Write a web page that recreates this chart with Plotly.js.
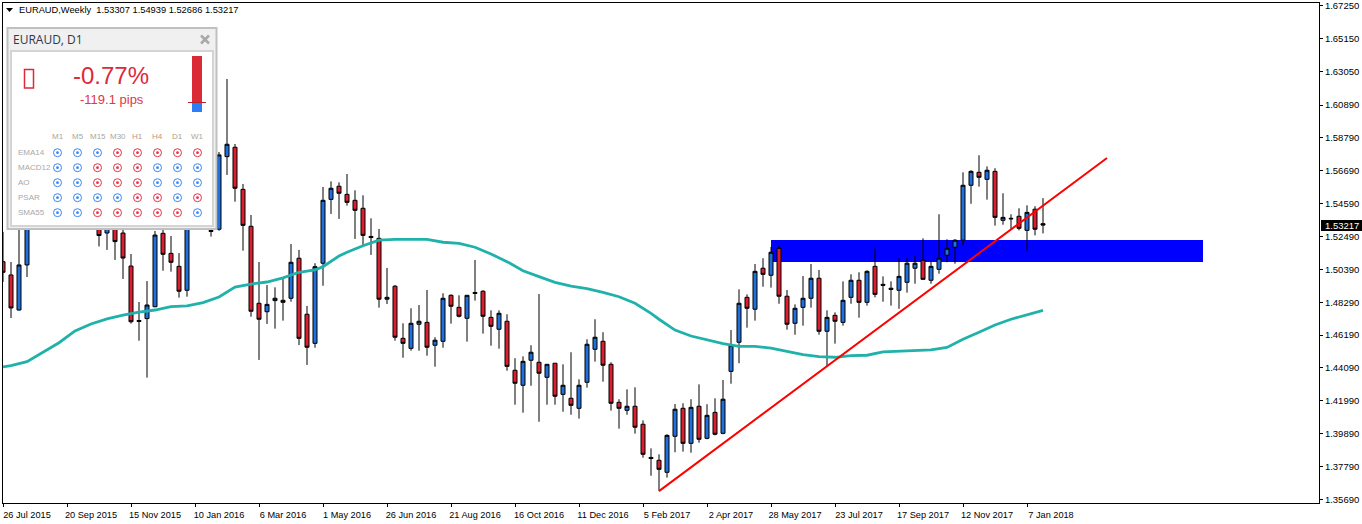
<!DOCTYPE html>
<html><head><meta charset="utf-8">
<script src="https://cdn.plot.ly/plotly-3.0.1.min.js"></script>
<style>html,body{margin:0;padding:0;background:#fff}#c{width:1362px;height:524px}</style>
</head><body><div id="c"></div>
<script>
// Weekly candles, week 0 = 26 Jul 2015. Candles 4-11 and 24-25 sit behind the panel in the picture.
const startDate = '2015-07-26';
const opens = [1.5088,1.5003,1.4779,1.5067,1.5450,1.5341,1.5546,1.5661,1.5482,1.5386,1.5514,1.5405,1.5386,1.5271,1.5367,1.5271,1.5060,1.4712,1.4724,1.4800,1.5269,1.5141,1.5058,1.4905,1.5386,1.5597,1.5287,1.5295,1.5759,1.5819,1.5550,1.5314,1.4822,1.4768,1.4839,1.4841,1.4854,1.5110,1.4752,1.4566,1.5078,1.5486,1.5570,1.5518,1.5480,1.5429,1.5249,1.5237,1.4848,1.4931,1.4598,1.4534,1.4688,1.4700,1.4554,1.4579,1.4873,1.4796,1.4726,1.4891,1.4899,1.4732,1.4656,1.4707,1.4394,1.4298,1.4458,1.4445,1.4349,1.4439,1.4240,1.4215,1.4151,1.4317,1.4528,1.4579,1.4432,1.4189,1.4138,1.4164,1.4049,1.3837,1.3819,1.3742,1.3972,1.4151,1.3927,1.4164,1.3959,1.4125,1.3991,1.4387,1.4573,1.4860,1.4784,1.5046,1.5001,1.5173,1.4867,1.4694,1.4796,1.4854,1.4982,1.4643,1.4745,1.4700,1.4860,1.4969,1.4828,1.5058,1.4943,1.4918,1.4905,1.4956,1.5046,1.5097,1.4969,1.5039,1.5129,1.5180,1.5225,1.5576,1.5659,1.5614,1.5665,1.5352,1.5365,1.5378,1.5288,1.5423,1.53307];
const highs = [1.5278,1.5086,1.5482,1.5514,1.5514,1.5610,1.5738,1.5706,1.5546,1.5559,1.5578,1.5533,1.5450,1.5418,1.5450,1.5297,1.5137,1.4830,1.4964,1.5284,1.5297,1.5252,1.5143,1.5450,1.5674,1.5661,1.5329,1.5789,1.6255,1.5840,1.5584,1.5386,1.5086,1.4939,1.4924,1.4977,1.5201,1.5163,1.4805,1.5078,1.5565,1.5601,1.5595,1.5648,1.5544,1.5512,1.5365,1.5297,1.5048,1.4939,1.4694,1.4790,1.4811,1.4907,1.4605,1.4886,1.4879,1.4873,1.4873,1.5099,1.4905,1.4777,1.4777,1.4752,1.4471,1.4483,1.4554,1.4881,1.4432,1.4439,1.4432,1.4509,1.4336,1.4592,1.4720,1.4637,1.4445,1.4209,1.4272,1.4285,1.4074,1.3895,1.3857,1.3985,1.4178,1.4183,1.4209,1.4304,1.4177,1.4215,1.4332,1.4651,1.4911,1.4879,1.5073,1.5110,1.5182,1.5188,1.4907,1.4815,1.4996,1.5073,1.5035,1.4777,1.4764,1.4962,1.5007,1.5020,1.5033,1.5173,1.4994,1.4962,1.5110,1.5110,1.5126,1.5237,1.5088,1.5391,1.5231,1.5231,1.5659,1.5672,1.5768,1.5697,1.5685,1.5525,1.5391,1.5429,1.5448,1.5442,1.54939];
const lows = [1.4958,1.4728,1.4776,1.4990,1.5316,1.5316,1.5482,1.5418,1.5341,1.5329,1.5354,1.5329,1.5185,1.5163,1.5099,1.4977,1.4692,1.4583,1.4347,1.4797,1.5030,1.5024,1.4858,1.4864,1.5341,1.5354,1.5248,1.5286,1.5642,1.5471,1.5158,1.4736,1.4460,1.4690,1.4660,1.4711,1.4832,1.4555,1.4428,1.4538,1.4934,1.5393,1.5361,1.5446,1.5233,1.5194,1.5131,1.4794,1.4817,1.4583,1.4474,1.4519,1.4519,1.4487,1.4417,1.4538,1.4692,1.4732,1.4577,1.4839,1.4628,1.4551,1.4532,1.4391,1.4174,1.4123,1.4295,1.4065,1.4174,1.4174,1.4129,1.4110,1.4085,1.4283,1.4449,1.4321,1.4136,1.4021,1.4110,1.3989,1.3835,1.3720,1.3624,1.3708,1.3870,1.3874,1.3867,1.3931,1.3953,1.3978,1.3985,1.4308,1.4439,1.4666,1.4711,1.4928,1.4922,1.4819,1.4653,1.4621,1.4679,1.4794,1.4621,1.4421,1.4564,1.4679,1.4819,1.4730,1.4807,1.4860,1.4832,1.4807,1.4787,1.4890,1.4947,1.4975,1.4947,1.5011,1.5084,1.5075,1.5193,1.5458,1.5567,1.5484,1.5318,1.5324,1.5295,1.5288,1.5154,1.5256,1.52686];
const closes = [1.5020,1.4792,1.5067,1.5482,1.5341,1.5546,1.5674,1.5482,1.5386,1.5514,1.5418,1.5482,1.5255,1.5322,1.5216,1.5111,1.4704,1.4706,1.4811,1.5258,1.5135,1.5084,1.4899,1.5386,1.5610,1.5450,1.5281,1.5770,1.5838,1.5557,1.5320,1.4771,1.4720,1.4815,1.4854,1.4828,1.5084,1.4598,1.4541,1.5056,1.5480,1.5557,1.5525,1.5467,1.5416,1.5256,1.5242,1.4848,1.4860,1.4605,1.4566,1.4694,1.4707,1.4541,1.4586,1.4854,1.4803,1.4739,1.4873,1.4885,1.4739,1.4675,1.4758,1.4419,1.4311,1.4451,1.4509,1.4375,1.4432,1.4228,1.4298,1.4170,1.4298,1.4560,1.4605,1.4426,1.4183,1.4151,1.4164,1.4030,1.3857,1.3830,1.3761,1.3978,1.4145,1.3927,1.4157,1.3953,1.4106,1.3985,1.4209,1.4554,1.4822,1.4790,1.5026,1.5007,1.5148,1.4867,1.4688,1.4790,1.4854,1.4982,1.4643,1.4732,1.4707,1.4841,1.4969,1.4828,1.5026,1.4879,1.4937,1.4911,1.4994,1.5078,1.5078,1.4975,1.5058,1.5110,1.5173,1.5225,1.5576,1.5665,1.5627,1.5672,1.5371,1.5371,1.5362,1.5301,1.5403,1.5295,1.53217];

// Moving average: week number and price
const maWeeks = [0,1,3,5,7,9,11,13,15,17,19,21,23,25,27,29,31,33,35,37,39,40,42,43,45,47,49,51,53,55,57,59,61,63,65,67,69,71,73,75,77,79,80,81,82,84,86,88,90,92,94,96,98,100,102,104,106,108,110,112,114,116,118,120,122,124,126,128,130];
const maValues = [1.4415,1.4423,1.4449,1.4511,1.4570,1.4645,1.4690,1.4722,1.4747,1.4766,1.4779,1.4800,1.4805,1.4826,1.4862,1.4926,1.4945,1.4958,1.4984,1.5020,1.5035,1.5056,1.5124,1.5148,1.5190,1.5226,1.5231,1.5231,1.5231,1.5212,1.5205,1.5180,1.5137,1.5088,1.5030,1.4992,1.4956,1.4931,1.4915,1.4892,1.4864,1.4822,1.4790,1.4758,1.4720,1.4651,1.4613,1.4586,1.4564,1.4547,1.4547,1.4536,1.4517,1.4494,1.4481,1.4477,1.4487,1.4490,1.4511,1.4514,1.4517,1.4524,1.4540,1.4592,1.4637,1.4683,1.4720,1.4749,1.4777];

// Drawn objects
const trendDates = ['2017-02-19','2018-03-18'];
const trendPrices = [1.3622,1.5750];
const zoneDates = ['2017-05-28','2018-06-10'];
const zonePrices = [1.5086,1.5226];

// Axis labels
const xTickDates = ['2015-07-26','2015-09-20','2015-11-15','2016-01-10','2016-03-06','2016-05-01','2016-06-26','2016-08-21','2016-10-16','2016-12-11','2017-02-05','2017-04-02','2017-05-28','2017-07-23','2017-09-17','2017-11-12','2018-01-07'];
const xTickText = ['26 Jul 2015','20 Sep 2015','15 Nov 2015','10 Jan 2016','6 Mar 2016','1 May 2016','26 Jun 2016','21 Aug 2016','16 Oct 2016','11 Dec 2016','5 Feb 2017','2 Apr 2017','28 May 2017','23 Jul 2017','17 Sep 2017','12 Nov 2017','7 Jan 2018'];
const yTicks = [1.6725,1.6515,1.6305,1.6089,1.5879,1.5669,1.5459,1.5249,1.5039,1.4829,1.4619,1.4409,1.4199,1.3989,1.3779,1.3569];

// Signal panel
const tfNames = ['M1','M5','M15','M30','H1','H4','D1','W1'];
const tfColors = ['#aaa69c','#aaa69c','#aaa69c','#aaa69c','#b09a8c','#b09a8c','#b09a8c','#aaa69c'];
const rowNames = ['EMA14','MACD12','AO','PSAR','SMA55'];
const signals = [
  ['b','b','b','r','r','r','r','r'],
  ['b','b','r','r','r','b','b','b'],
  ['b','b','r','r','r','b','b','b'],
  ['b','b','b','b','r','r','b','r'],
  ['b','b','r','r','r','r','r','b']
];

const BLUE='#1f6fdc', RED='#dc1f2e', TEAL='#20b2aa';
const dayMs=864e5;
const dates = opens.map((_,i)=>new Date(Date.parse(startDate+'T00:00:00Z')+i*7*dayMs).toISOString().slice(0,10));

const traces = [
  {type:'scatter',mode:'lines',x:maWeeks.map(i=>dates[i]),y:maValues,
   line:{color:TEAL,width:2.8,shape:'linear'},hoverinfo:'skip'},
  {type:'candlestick',x:dates,open:opens,high:highs,low:lows,close:closes,whiskerwidth:0,
   increasing:{line:{color:'#000',width:1},fillcolor:BLUE},
   decreasing:{line:{color:'#000',width:1},fillcolor:RED}},
  {type:'scatter',mode:'lines',x:trendDates,y:trendPrices,line:{color:'#ff0000',width:2},hoverinfo:'skip'}
];

// pixel helpers for the panel overlay
const L=3,T=3,W=1316,H=500;
const px=x=>(x-L)/W, py=y=>1-(y-T)/H;
const rect=(x0,y0,x1,y1,fill,line,lw)=>({type:'rect',xref:'paper',yref:'paper',layer:'above',
  x0:px(x0),x1:px(x1),y0:py(y0),y1:py(y1),fillcolor:fill,line:{color:line||fill,width:lw||0}});
const seg=(x0,y0,x1,y1,c,w)=>({type:'line',xref:'paper',yref:'paper',layer:'above',
  x0:px(x0),x1:px(x1),y0:py(y0),y1:py(y1),line:{color:c,width:w}});
const circ=(cx,cy,r,fill,line,lw)=>({type:'circle',xref:'paper',yref:'paper',layer:'above',
  x0:px(cx-r),x1:px(cx+r),y0:py(cy+r),y1:py(cy-r),fillcolor:fill,line:{color:line,width:lw}});
const txt=(x,y,s,size,color,anchor,family,extra)=>Object.assign({xref:'paper',yref:'paper',x:px(x),y:py(y),text:s,showarrow:false,
  xanchor:anchor||'center',yanchor:'middle',align:anchor||'center',borderpad:0,
  font:{family:family||'Liberation Sans',size:size,color:color}},extra||{});

const shapes=[
 {type:'rect',xref:'x',yref:'y',layer:'below',x0:zoneDates[0],x1:zoneDates[1],y0:zonePrices[0],y1:zonePrices[1],fillcolor:'#0000ff',line:{width:0}},
 rect(7.5,28,216.5,229,'#f0f0f0','#c0c0c0',2),
 rect(11,51,213,226,'#ffffff','#d4d4d4',2),
 seg(201,35.5,209,43.5,'#a8a8a8',2.5), seg(209,35.5,201,43.5,'#a8a8a8',2.5),
 rect(24.5,69.5,33.5,88,'#ffffff','#dc2a3a',1.5),
 rect(192,56,202,103,'#d92a36'),
 rect(192,103,202,112,'#2d7df6'),
 seg(188,102.5,206,102.5,'#c0202c',1)
];
const tfX=tfNames.map((_,i)=>57.5+20*i), rowY=rowNames.map((_,i)=>152.7+15*i);
signals.forEach((row,r)=>row.forEach((s,c)=>{
  const col=s==='b'?'#3d86f2':'#e0354a';
  shapes.push(circ(tfX[c],rowY[r],4,'#ffffff',col,1));
  shapes.push(circ(tfX[c],rowY[r],1.4,col,col,0));
}));

const annotations=[
 txt(18,9.5,'EURAUD,Weekly&nbsp;&nbsp;1.53307 1.54939 1.52686 1.53217',9.3,'#000','left'),
 txt(12,40,'EURAUD, D1',12,'#2f3a46','left','Open Sans'),
 txt(111.5,75,'-0.77%',24,'#dc2a3a'),
 txt(111.8,100,'-119.1 pips',13,'#e0364a'),
 txt(1341.5,225.5,'1.53217',9.5,'#ffffff','center','Liberation Sans')
];
tfNames.forEach((n,i)=>annotations.push(txt(tfX[i],136,n,8,tfColors[i])));
rowNames.forEach((n,i)=>annotations.push(txt(17,rowY[i],n,8,'#a8a8a8','left')));
shapes.push({type:'rect',xref:'paper',yref:'paper',layer:'above',x0:px(1321),x1:px(1362),y0:py(231),y1:py(220),fillcolor:'#000',line:{width:0}});
// header triangle
shapes.push({type:'path',xref:'paper',yref:'paper',layer:'above',
  path:`M ${px(6)} ${py(8)} L ${px(13)} ${py(8)} L ${px(9.5)} ${py(12)} Z`,fillcolor:'#000',line:{width:0}});

const tickFont={family:'Liberation Sans',size:9.5,color:'#000'};
const layout={
 width:1362,height:524,margin:{l:L,r:1362-L-W,t:T,b:524-T-H,pad:0},
 paper_bgcolor:'#fff',plot_bgcolor:'#fff',showlegend:false,hovermode:false,
 boxgap:0.5,boxgroupgap:0,boxmode:'overlay',
 xaxis:{type:'date',range:['2015-07-26','2018-09-19 12:00'],rangeslider:{visible:false},
  tickmode:'array',tickvals:xTickDates,ticktext:xTickText,ticks:'outside',ticklen:3,tickcolor:'#000',
  tickfont:{family:'Liberation Sans',size:9.2,color:'#000'},ticklabelshift:24,showgrid:false,zeroline:false,showline:true,linecolor:'#000',linewidth:1,mirror:true},
 yaxis:{range:[1.35458,1.67408],side:'right',tickmode:'array',tickvals:yTicks,ticktext:yTicks.map(v=>v.toFixed(5)),
  ticklabeloverflow:'allow',
  ticks:'outside',ticklen:3,tickcolor:'#000',tickfont:tickFont,showgrid:false,zeroline:false,showline:true,linecolor:'#000',linewidth:1,mirror:true},
 shapes,annotations
};
Plotly.newPlot('c',traces,layout,{displayModeBar:false,staticPlot:true,responsive:false});
</script></body></html>
